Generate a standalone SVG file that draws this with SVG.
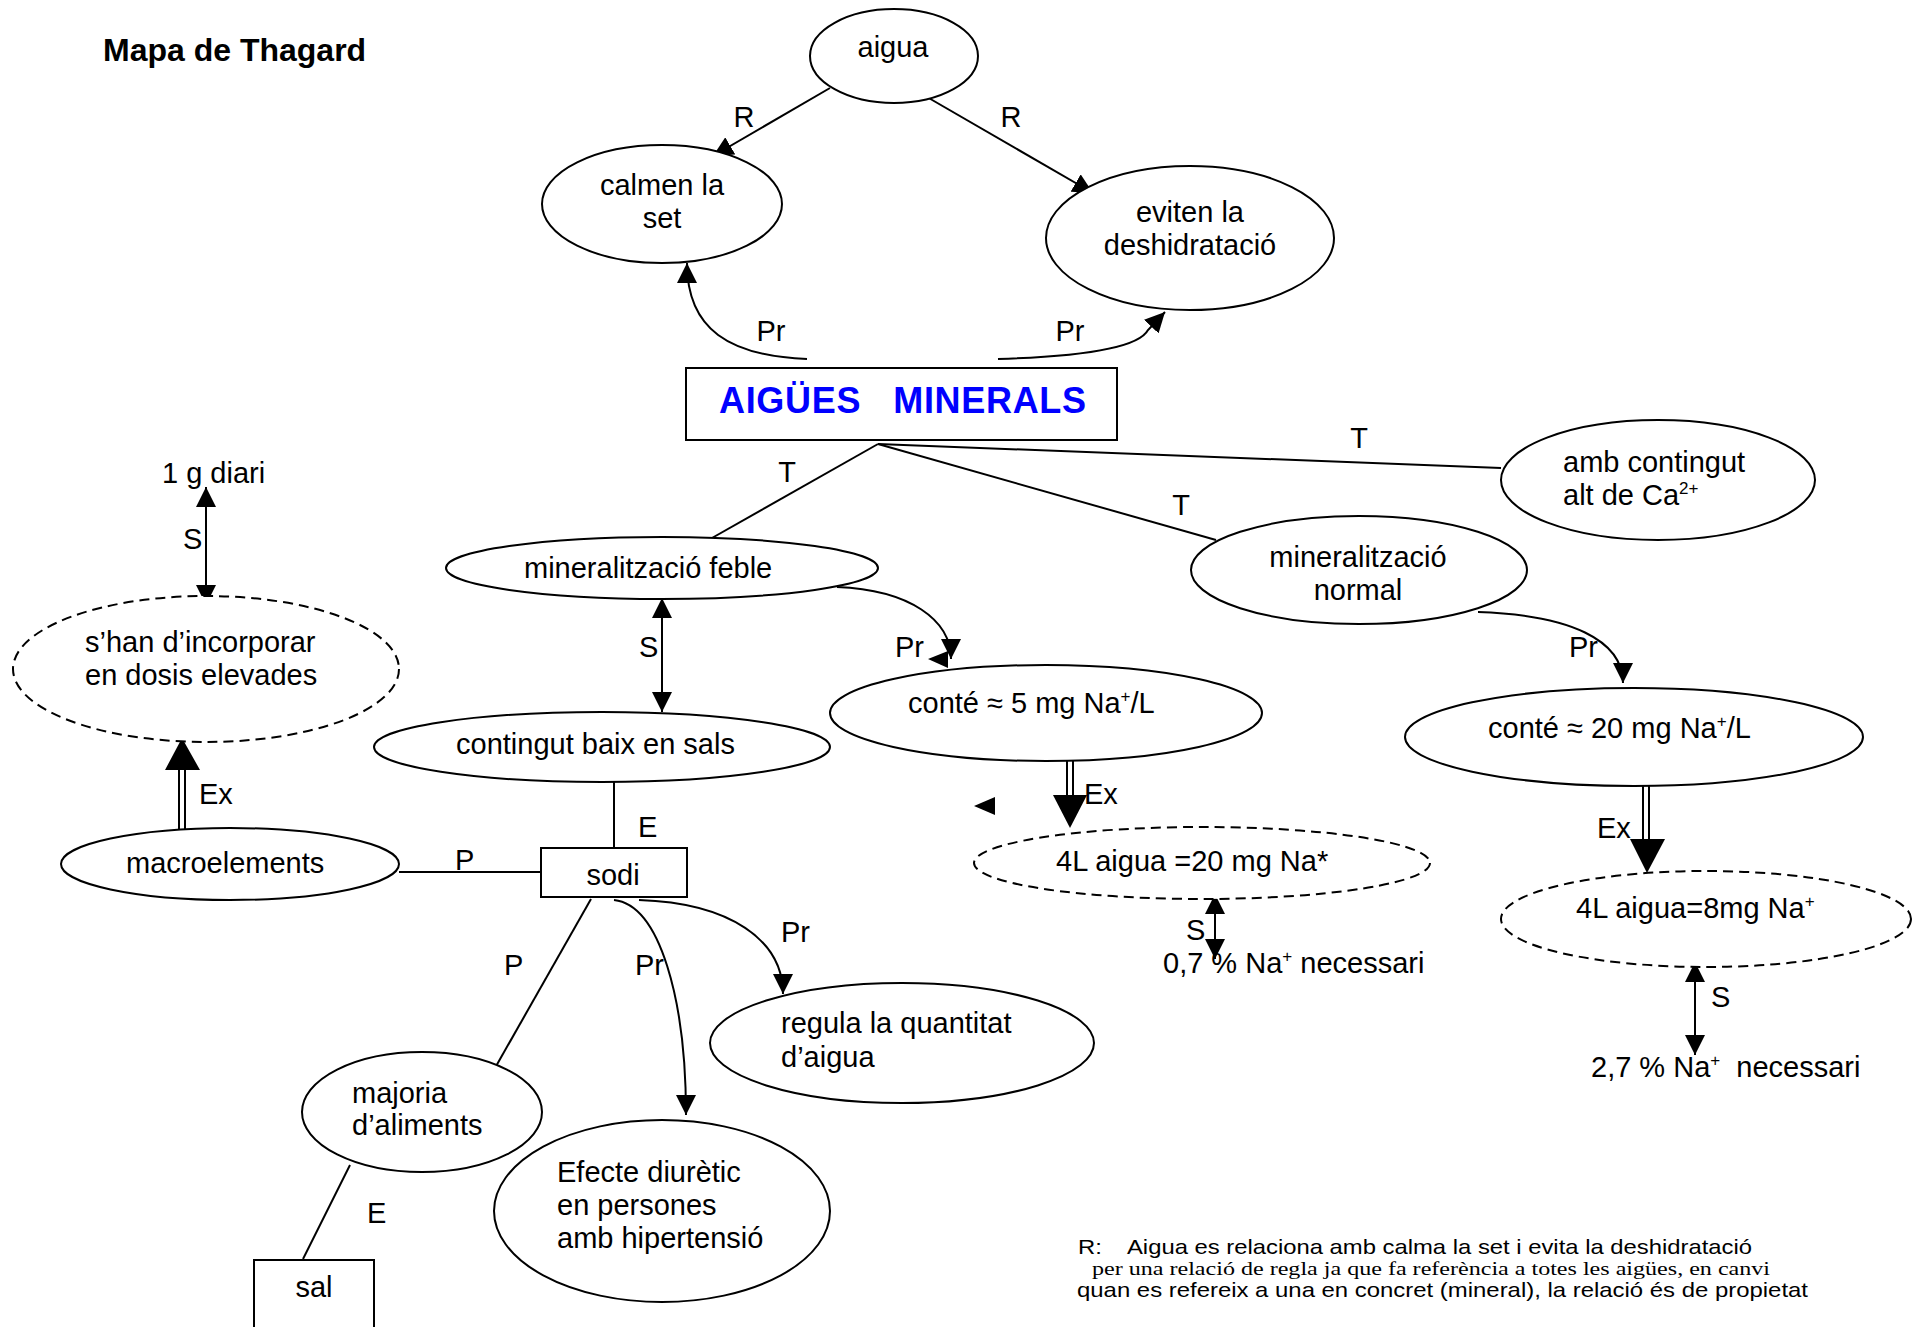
<svg xmlns="http://www.w3.org/2000/svg" width="1917" height="1327" viewBox="0 0 1917 1327">
  <style>
    text { font-family: "Liberation Sans", Arial, sans-serif; font-size: 29px; fill: #000; }
    .mid { text-anchor: middle; }
    .node { fill: #fff; stroke: #000; stroke-width: 2; }
    .dash { fill: #fff; stroke: #000; stroke-width: 2; stroke-dasharray: 10 6; }
    .ln { fill: none; stroke: #000; stroke-width: 2; }
    .head { fill: #000; stroke: none; }
    .sup { font-size: 17px; }
    .note { font-size: 21px; }
    .serif { font-family: "Liberation Serif", "Times New Roman", serif; font-size: 19px; }
  </style>
  <defs>
    <marker id="arr" viewBox="0 0 20 20" refX="20" refY="10" markerWidth="20" markerHeight="20" markerUnits="userSpaceOnUse" orient="auto-start-reverse">
      <path d="M0,0 L20,10 L0,20 z" fill="#000"/>
    </marker>
  </defs>

  <rect width="1917" height="1327" fill="#fff"/>

  <text x="103" y="61" style="font-weight:bold;font-size:32px">Mapa de Thagard</text>

  <!-- connectors -->
  <g id="connectors">
    <!-- R: aigua -> calmen / eviten -->
    <line class="ln" x1="830" y1="88" x2="713" y2="156" marker-end="url(#arr)"/>
    <line class="ln" x1="927" y1="97" x2="1093" y2="193" marker-end="url(#arr)"/>
    <!-- Pr: AIGÜES MINERALS -> calmen / eviten -->
    <path class="ln" d="M807,359 C730,356 687,330 687,263" marker-end="url(#arr)"/>
    <path class="ln" d="M998,359 C1100,356 1140,345 1148,330 L1165,312" marker-end="url(#arr)"/>
    <!-- T links -->
    <line class="ln" x1="878" y1="444" x2="712" y2="538"/>
    <line class="ln" x1="878" y1="444" x2="1216" y2="540"/>
    <line class="ln" x1="878" y1="444" x2="1501" y2="468"/>
    <!-- Pr: feble -> 5 mg ; normal -> 20 mg -->
    <path class="ln" d="M837,587 C910,590 951,620 951,659" marker-end="url(#arr)"/>
    <path class="ln" d="M1478,612 C1570,615 1623,640 1623,683" marker-end="url(#arr)"/>
    <!-- S double arrows -->
    <line class="ln" x1="206" y1="487" x2="206" y2="605" marker-start="url(#arr)" marker-end="url(#arr)"/>
    <line class="ln" x1="662" y1="598" x2="662" y2="712" marker-start="url(#arr)" marker-end="url(#arr)"/>
    <line class="ln" x1="1215" y1="894" x2="1215" y2="959" marker-start="url(#arr)" marker-end="url(#arr)"/>
    <line class="ln" x1="1695" y1="962" x2="1695" y2="1055" marker-start="url(#arr)" marker-end="url(#arr)"/>
    <!-- Ex double arrows -->
    <line class="ln" x1="1643" y1="783" x2="1643" y2="840"/>
    <line class="ln" x1="1649" y1="783" x2="1649" y2="840"/>
    <polygon class="head" points="1630,839 1665,839 1647,873"/>
    <line class="ln" x1="1067" y1="759" x2="1067" y2="796"/>
    <line class="ln" x1="1073" y1="759" x2="1073" y2="796"/>
    <polygon class="head" points="1053,795 1087,795 1070,828"/>
    <line class="ln" x1="179" y1="829" x2="179" y2="769"/>
    <line class="ln" x1="185" y1="829" x2="185" y2="769"/>
    <polygon class="head" points="165,770 200,770 182,738"/>
    <!-- loose arrowheads -->
    <polygon class="head" points="928,659 948,651 948,668"/>
    <polygon class="head" points="974,806 995,797 995,815"/>
    <!-- E / P links around sodi -->
    <line class="ln" x1="614" y1="780" x2="614" y2="850"/>
    <line class="ln" x1="399" y1="872" x2="541" y2="872"/>
    <line class="ln" x1="591" y1="899" x2="495" y2="1068"/>
    <line class="ln" x1="350" y1="1165" x2="303" y2="1259"/>
    <!-- Pr: sodi -> regula / Efecte -->
    <path class="ln" d="M639,900 C730,903 783,940 783,994" marker-end="url(#arr)"/>
    <path class="ln" d="M614,900 C660,905 686,1000 686,1115" marker-end="url(#arr)"/>

    <!-- connector labels -->
    <text class="mid" x="744" y="127">R</text>
    <text class="mid" x="1011" y="127">R</text>
    <text class="mid" x="771" y="341">Pr</text>
    <text class="mid" x="1070" y="341">Pr</text>
    <text class="mid" x="787" y="482">T</text>
    <text class="mid" x="1181" y="515">T</text>
    <text class="mid" x="1359" y="448">T</text>
    <text x="895" y="657">Pr</text>
    <text x="1569" y="657">Pr</text>
    <text x="183" y="549">S</text>
    <text x="639" y="657">S</text>
    <text x="1186" y="940">S</text>
    <text x="1711" y="1007">S</text>
    <text x="199" y="804">Ex</text>
    <text x="1084" y="804">Ex</text>
    <text x="1597" y="838">Ex</text>
    <text x="638" y="837">E</text>
    <text x="367" y="1223">E</text>
    <text x="455" y="870">P</text>
    <text x="504" y="975">P</text>
    <text x="635" y="975">Pr</text>
    <text x="781" y="942">Pr</text>
  </g>

  <!-- nodes -->
  <g id="aigua">
    <ellipse class="node" cx="894" cy="56" rx="84" ry="47"/>
    <text class="mid" x="893" y="57">aigua</text>
  </g>
  <g id="calmen">
    <ellipse class="node" cx="662" cy="204" rx="120" ry="59"/>
    <text class="mid" x="662" y="195">calmen la</text>
    <text class="mid" x="662" y="228">set</text>
  </g>
  <g id="eviten">
    <ellipse class="node" cx="1190" cy="238" rx="144" ry="72"/>
    <text class="mid" x="1190" y="222">eviten la</text>
    <text class="mid" x="1190" y="255">deshidratació</text>
  </g>
  <g id="aigues-minerals">
    <rect class="node" x="686" y="368" width="431" height="72"/>
    <text x="719" y="413" xml:space="preserve" textLength="367" lengthAdjust="spacing" style="font-weight:bold;font-size:36px;fill:#0000ff">AIGÜES   MINERALS</text>
  </g>
  <g id="calci">
    <ellipse class="node" cx="1658" cy="480" rx="157" ry="60"/>
    <text x="1563" y="472">amb contingut</text>
    <text x="1563" y="505">alt de Ca<tspan class="sup" dy="-11">2+</tspan></text>
  </g>
  <g id="min-normal">
    <ellipse class="node" cx="1359" cy="570" rx="168" ry="54"/>
    <text class="mid" x="1358" y="567">mineralització</text>
    <text class="mid" x="1358" y="600">normal</text>
  </g>
  <g id="min-feble">
    <ellipse class="node" cx="662" cy="568" rx="216" ry="31"/>
    <text x="524" y="578">mineralització feble</text>
  </g>
  <g id="conte-5">
    <ellipse class="node" cx="1046" cy="713" rx="216" ry="48"/>
    <text x="908" y="713">conté ≈ 5 mg Na<tspan class="sup" dy="-11">+</tspan><tspan dy="11">/L</tspan></text>
  </g>
  <g id="conte-20">
    <ellipse class="node" cx="1634" cy="737" rx="229" ry="49"/>
    <text x="1488" y="738">conté ≈ 20 mg Na<tspan class="sup" dy="-11">+</tspan><tspan dy="11">/L</tspan></text>
  </g>
  <g id="aigua-20mg">
    <ellipse class="dash" cx="1202" cy="863" rx="228" ry="36"/>
    <text x="1056" y="871">4L aigua =20 mg Na*</text>
  </g>
  <g id="na-07">
    <text x="1163" y="973">0,7 % Na<tspan class="sup" dy="-11">+</tspan><tspan dy="11"> necessari</tspan></text>
  </g>
  <g id="aigua-8mg">
    <ellipse class="dash" cx="1706" cy="919" rx="205" ry="48"/>
    <text x="1576" y="918">4L aigua=8mg Na<tspan class="sup" dy="-11">+</tspan></text>
  </g>
  <g id="na-27">
    <text x="1591" y="1077" xml:space="preserve">2,7 % Na<tspan class="sup" dy="-11">+</tspan><tspan dy="11">  necessari</tspan></text>
  </g>
  <g id="un-g-diari">
    <text x="162" y="483">1 g diari</text>
  </g>
  <g id="dosis">
    <ellipse class="dash" cx="206" cy="669" rx="193" ry="73"/>
    <text x="85" y="652">s’han d’incorporar</text>
    <text x="85" y="685">en dosis elevades</text>
  </g>
  <g id="contingut-baix">
    <ellipse class="node" cx="602" cy="747" rx="228" ry="35"/>
    <text x="456" y="754">contingut baix en sals</text>
  </g>
  <g id="macroelements">
    <ellipse class="node" cx="230" cy="864" rx="169" ry="36"/>
    <text x="126" y="873">macroelements</text>
  </g>
  <g id="sodi">
    <rect class="node" x="541" y="848" width="146" height="49"/>
    <text class="mid" x="613" y="885">sodi</text>
  </g>
  <g id="regula">
    <ellipse class="node" cx="902" cy="1043" rx="192" ry="60"/>
    <text x="781" y="1033">regula la quantitat</text>
    <text x="781" y="1067">d’aigua</text>
  </g>
  <g id="majoria">
    <ellipse class="node" cx="422" cy="1112" rx="120" ry="60"/>
    <text x="352" y="1103">majoria</text>
    <text x="352" y="1135">d’aliments</text>
  </g>
  <g id="efecte">
    <ellipse class="node" cx="662" cy="1211" rx="168" ry="91"/>
    <text x="557" y="1182">Efecte diurètic</text>
    <text x="557" y="1215">en persones</text>
    <text x="557" y="1248">amb hipertensió</text>
  </g>
  <g id="sal">
    <rect class="node" x="254" y="1260" width="120" height="100"/>
    <text class="mid" x="314" y="1297">sal</text>
  </g>

  <!-- note on the R relation -->
  <g id="nota">
    <text class="note" x="1078" y="1254" xml:space="preserve" textLength="674" lengthAdjust="spacingAndGlyphs">R:    Aigua es relaciona amb calma la set i evita la deshidratació</text>
    <text class="serif" x="1092" y="1275" textLength="678" lengthAdjust="spacingAndGlyphs">per una relació de regla ja que fa referència a totes les aigües, en canvi</text>
    <text class="note" x="1077" y="1297" textLength="731" lengthAdjust="spacingAndGlyphs">quan es refereix a una en concret (mineral), la relació és de propietat</text>
  </g>
</svg>
